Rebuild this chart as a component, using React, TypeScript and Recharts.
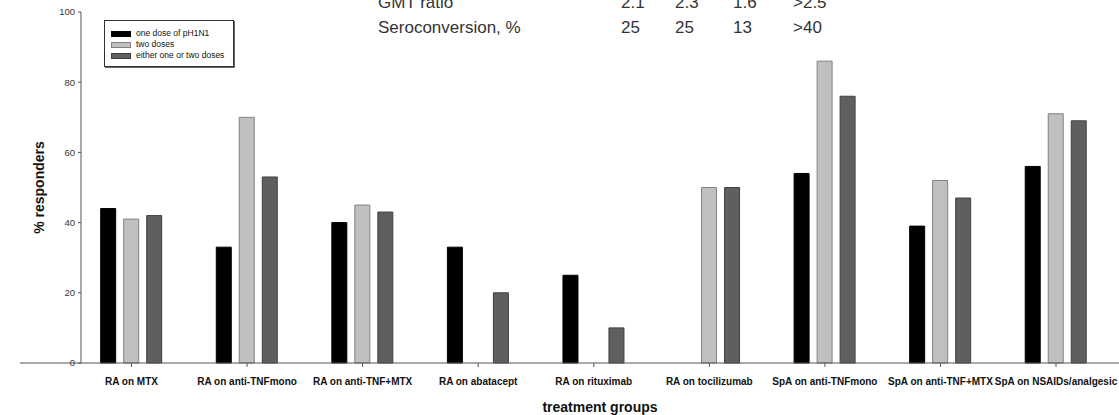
import React from "react";
import { BarChart, Bar, XAxis, YAxis, Label } from "recharts";

const categories = [
  "RA on MTX",
  "RA on anti-TNFmono",
  "RA on anti-TNF+MTX",
  "RA on abatacept",
  "RA on rituximab",
  "RA on tocilizumab",
  "SpA on anti-TNFmono",
  "SpA on anti-TNF+MTX",
  "SpA on NSAIDs/analgesic",
];
const oneDose = [44, 33, 40, 33, 25, null, 54, 39, 56];
const twoDoses = [41, 70, 45, null, null, 50, 86, 52, 71];
const eitherDose = [42, 53, 43, 20, 10, 50, 76, 47, 69];
const yTicks = [0, 20, 40, 60, 80, 100];

const seriesNames = ["one dose of pH1N1", "two doses", "either one or two doses"];
const seriesFill = ["#000000", "#c0c0c0", "#5f5f5f"];
const seriesStroke = ["#000000", "#808080", "#404040"];

const tableRows = ["GMT ratio", "Seroconversion, %"];
const gmtRatio = ["2.1", "2.3", "1.6", ">2.5"];
const seroconversion = ["25", "25", "13", ">40"];

const data = categories.map((name, i) => ({
  name,
  one: oneDose[i],
  two: twoDoses[i],
  either: eitherDose[i],
}));

const FONT = "'Liberation Sans', Arial, Helvetica, sans-serif";
const AXIS = "#555";

// y ticks; the 0 tick also draws the x-axis line running out left of the y axis
function YTick(props: any) {
  const { x, y, payload } = props;
  const axisX = x + 6;
  return (
    <g>
      {payload.value === 0 && (
        <line x1={axisX - 61} x2={axisX} y1={y} y2={y} stroke={AXIS} />
      )}
      <text
        x={x}
        y={y}
        dy="0.355em"
        textAnchor="end"
        fontSize={9.5}
        fill="#333"
        fontFamily={FONT}
      >
        {payload.value}
      </text>
    </g>
  );
}

function TopTable() {
  const colX = [621, 675, 733, 793];
  const rows = [gmtRatio, seroconversion];
  return (
    <svg
      width={1119}
      height={45}
      style={{ position: "absolute", left: 0, top: 0, pointerEvents: "none" }}
    >
      {tableRows.map((label, r) => (
        <g key={label} fontSize={17} fill="#333" fontFamily={FONT}>
          <text x={378} y={8 + r * 25}>
            {label}
          </text>
          {rows[r].map((v, c) => (
            <text key={c} x={colX[c]} y={8 + r * 25}>
              {v}
            </text>
          ))}
        </g>
      ))}
    </svg>
  );
}

function LegendBox() {
  return (
    <div
      style={{
        position: "absolute",
        left: 104,
        top: 20,
        width: 128,
        height: 45,
        border: "1px solid #333",
        boxShadow: "1px 1px 0 #666",
        background: "#fff",
      }}
    >
      {seriesNames.map((name, i) => (
        <div
          key={name}
          style={{
            position: "absolute",
            left: 6,
            top: 8 + i * 11,
            height: 9,
            display: "flex",
            alignItems: "center",
          }}
        >
          <div
            style={{
              width: 18,
              height: 4,
              background: seriesFill[i],
              border: `1px solid ${seriesStroke[i]}`,
              marginRight: 5,
            }}
          />
          <span
            style={{
              fontSize: 8.5,
              color: "#111",
              fontFamily: FONT,
              whiteSpace: "nowrap",
              lineHeight: "9px",
            }}
          >
            {name}
          </span>
        </div>
      ))}
    </div>
  );
}

export default function App() {
  return (
    <div
      style={{
        position: "absolute",
        left: 0,
        top: 0,
        width: 1119,
        height: 415,
        background: "#fff",
        fontFamily: FONT,
      }}
    >
      <BarChart
        width={1119}
        height={415}
        data={data}
        margin={{ top: 12, right: 0, bottom: 0, left: 0 }}
        barGap={8}
        barSize={15}
      >
        <XAxis
          dataKey="name"
          height={52}
          padding={{ left: -7.3, right: 5.2 }}
          stroke={AXIS}
          tickSize={4}
          tickMargin={11}
          interval={0}
          tick={{ fontSize: 10, fontWeight: "bold", fill: "#111", fontFamily: FONT }}
        >
          <Label
            value="treatment groups"
            position="insideBottom"
            offset={3}
            style={{ fontSize: 14, fontWeight: "bold", fill: "#111", fontFamily: FONT }}
          />
        </XAxis>
        <YAxis
          width={81}
          domain={[0, 100]}
          ticks={yTicks}
          stroke={AXIS}
          tickSize={3}
          tickMargin={3}
          tick={<YTick />}
          interval={0}
        >
          <Label
            value="% responders"
            angle={-90}
            position="center"
            dx={-1}
            style={{ fontSize: 14, fontWeight: "bold", fill: "#111", fontFamily: FONT }}
          />
        </YAxis>
        <Bar dataKey="one" fill={seriesFill[0]} stroke={seriesStroke[0]} isAnimationActive={false} />
        <Bar dataKey="two" fill={seriesFill[1]} stroke={seriesStroke[1]} isAnimationActive={false} />
        <Bar dataKey="either" fill={seriesFill[2]} stroke={seriesStroke[2]} isAnimationActive={false} />
      </BarChart>
      <TopTable />
      <LegendBox />
    </div>
  );
}
